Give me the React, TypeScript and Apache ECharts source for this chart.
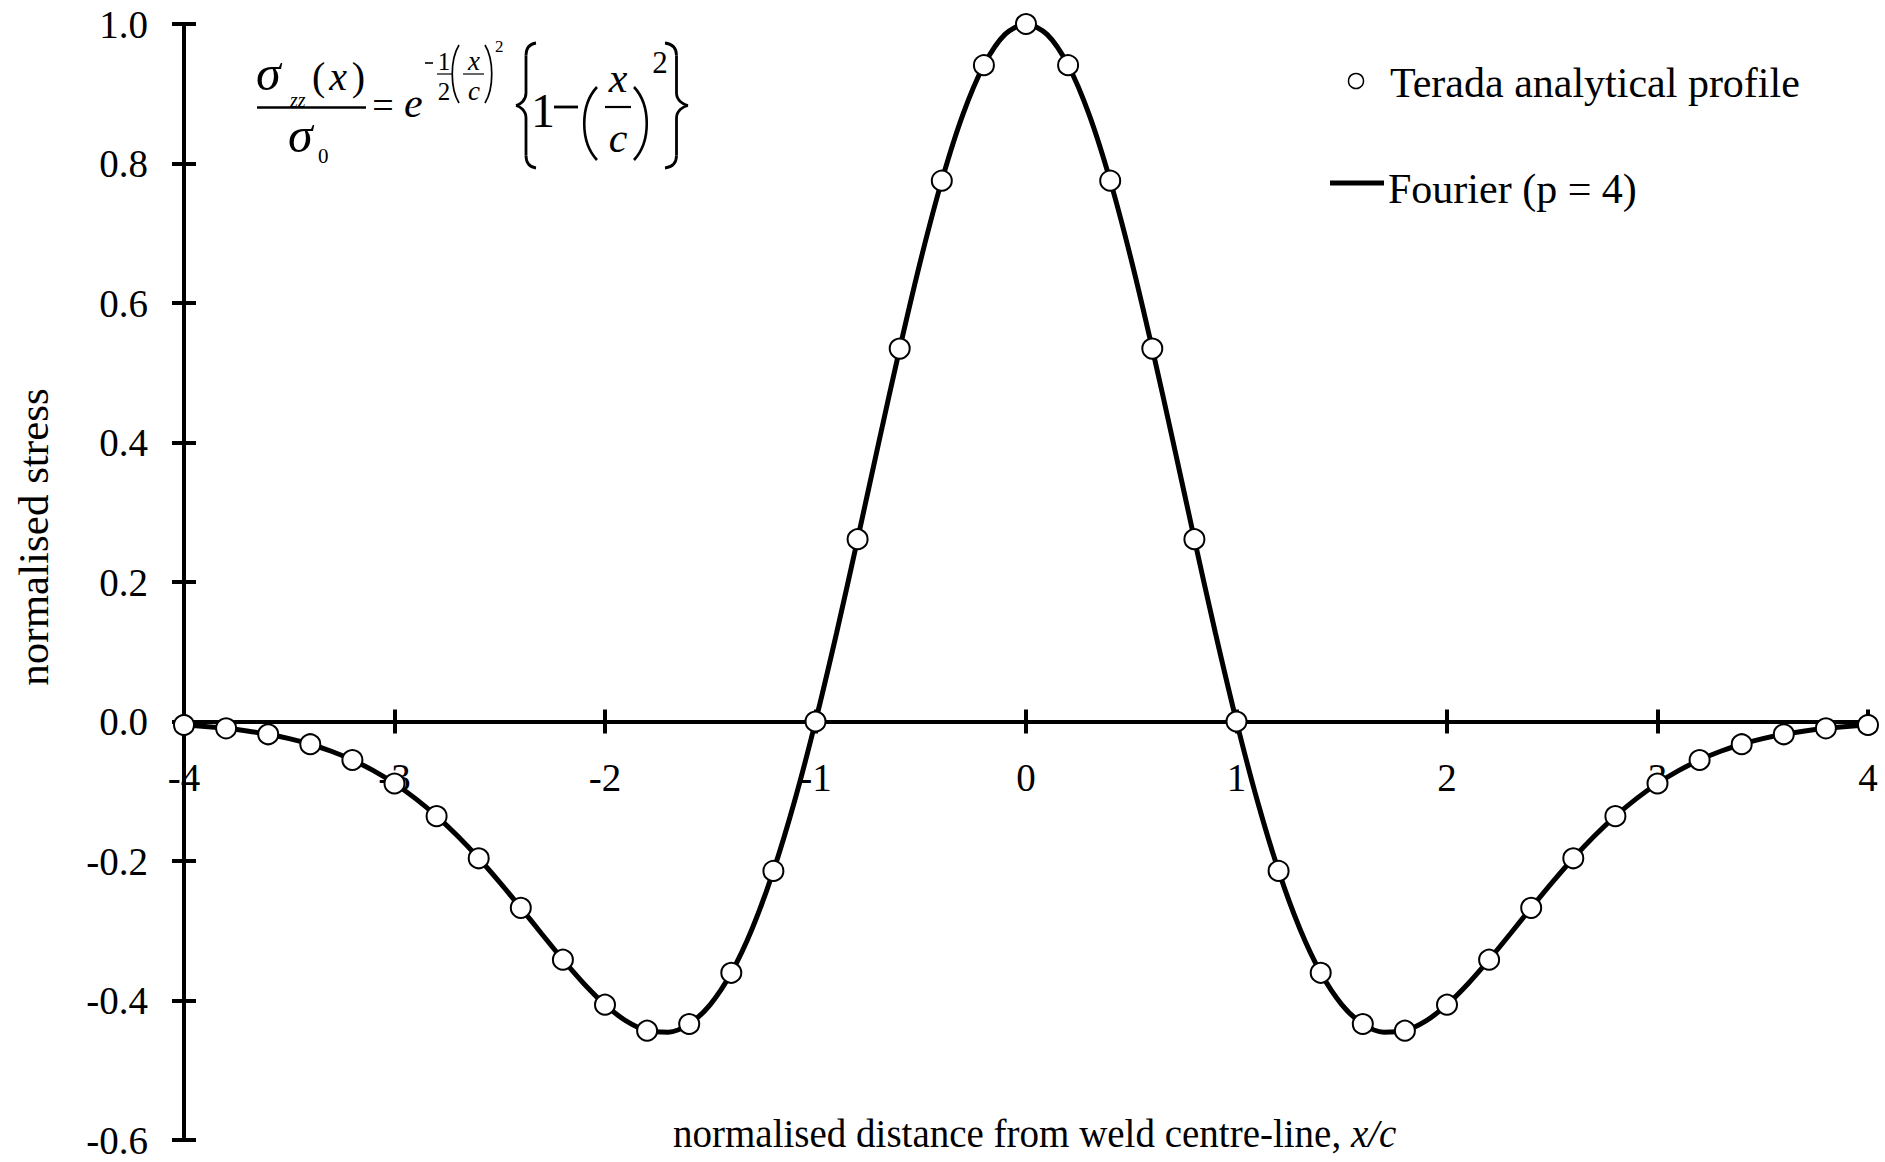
import React, { useEffect, useRef } from "react";
import * as echarts from "echarts";

const FONT = "'Liberation Serif', 'Times New Roman', Times, serif";

// Terada analytical profile points (x/c, normalised stress)
const teradaX = [
  -4.0, -3.8, -3.6, -3.4, -3.2, -3.0, -2.8, -2.6, -2.4, -2.2, -2.0, -1.8, -1.6, -1.4,
  -1.2, -1.0, -0.8, -0.6, -0.4, -0.2, 0.0, 0.2, 0.4, 0.6, 0.8, 1.0, 1.2, 1.4, 1.6, 1.8,
  2.0, 2.2, 2.4, 2.6, 2.8, 3.0, 3.2, 3.4, 3.6, 3.8, 4.0,
];
const teradaY = [
  -0.005, -0.0098, -0.0183, -0.0326, -0.0552, -0.0889, -0.1357, -0.1961, -0.2672, -0.3415,
  -0.406, -0.4433, -0.4337, -0.3603, -0.2142, 0.0, 0.2614, 0.5346, 0.7754, 0.941, 1.0,
  0.941, 0.7754, 0.5346, 0.2614, 0.0, -0.2142, -0.3603, -0.4337, -0.4433, -0.406,
  -0.3415, -0.2672, -0.1961, -0.1357, -0.0889, -0.0552, -0.0326, -0.0183, -0.0098, -0.005,
];

// Fourier (p = 4) reconstruction curve
const fourierX = [
  -4.0, -3.9, -3.8, -3.7, -3.6, -3.5, -3.4, -3.3, -3.2, -3.1, -3.0, -2.9, -2.8, -2.7, -2.6,
  -2.5, -2.4, -2.3, -2.2, -2.1, -2.0, -1.9, -1.8, -1.7, -1.6, -1.5, -1.4, -1.3, -1.2, -1.1,
  -1.0, -0.9, -0.8, -0.7, -0.6, -0.5, -0.4, -0.3, -0.2, -0.1, 0.0, 0.1, 0.2, 0.3, 0.4, 0.5,
  0.6, 0.7, 0.8, 0.9, 1.0, 1.1, 1.2, 1.3, 1.4, 1.5, 1.6, 1.7, 1.8, 1.9, 2.0, 2.1, 2.2, 2.3,
  2.4, 2.5, 2.6, 2.7, 2.8, 2.9, 3.0, 3.1, 3.2, 3.3, 3.4, 3.5, 3.6, 3.7, 3.8, 3.9, 4.0,
];
const fourierY = [
  -0.005, -0.0071, -0.0098, -0.0135, -0.0183, -0.0246, -0.0326, -0.0427, -0.0552, -0.0705,
  -0.0889, -0.1106, -0.1357, -0.1643, -0.1961, -0.2307, -0.2672, -0.3046, -0.3415, -0.376,
  -0.406, -0.4293, -0.4433, -0.4455, -0.4337, -0.4058, -0.3603, -0.2964, -0.2142, -0.1147,
  0.0, 0.1267, 0.2614, 0.3992, 0.5346, 0.6619, 0.7754, 0.87, 0.941, 0.9851, 1.0, 0.9851,
  0.941, 0.87, 0.7754, 0.6619, 0.5346, 0.3992, 0.2614, 0.1267, 0.0, -0.1147, -0.2142,
  -0.2964, -0.3603, -0.4058, -0.4337, -0.4455, -0.4433, -0.4293, -0.406, -0.376, -0.3415,
  -0.3046, -0.2672, -0.2307, -0.1961, -0.1643, -0.1357, -0.1106, -0.0889, -0.0705, -0.0552,
  -0.0427, -0.0326, -0.0246, -0.0183, -0.0135, -0.0098, -0.0071, -0.005,
];

const X_MIN = -4;
const X_MAX = 4;
const X_STEP = 1;
const Y_MIN = -0.6;
const Y_MAX = 1.0;
const Y_STEP = 0.2;

const SERIES_POINTS = "Terada analytical profile";
const SERIES_LINE = "Fourier (p = 4)";
const X_TITLE = "normalised distance from weld centre-line, ";
const X_TITLE_ITALIC = "x/c";
const Y_TITLE = "normalised stress";

// layout of the plot area (px)
const GRID_LEFT = 184;
const GRID_RIGHT = 17;
const GRID_TOP = 24;
const GRID_BOTTOM = 22;
const CHART_H = 1162;

// text helper: place by baseline
function tb(
  text: string,
  x: number,
  baseline: number,
  size: number,
  italic = false,
  align: "left" | "center" | "right" = "left"
) {
  return {
    type: "text",
    x,
    y: baseline - 0.3375 * size,
    z: 100,
    style: {
      text,
      x: 0,
      y: 0,
      fill: "#000",
      font: `${italic ? "italic " : ""}${size}px ${FONT}`,
      align,
      textAlign: align,
      verticalAlign: "middle",
      textVerticalAlign: "middle",
    },
  };
}

function ln(x1: number, y1: number, x2: number, y2: number, w: number) {
  return {
    type: "line",
    z: 100,
    shape: { x1, y1, x2, y2 },
    style: { stroke: "#000", lineWidth: w },
  };
}

function bz(
  x1: number,
  y1: number,
  cpx1: number,
  cpy1: number,
  cpx2: number,
  cpy2: number,
  x2: number,
  y2: number,
  w: number
) {
  return {
    type: "bezierCurve",
    z: 100,
    shape: { x1, y1, cpx1, cpy1, cpx2, cpy2, x2, y2 },
    style: { stroke: "#000", lineWidth: w, fill: "none" },
  };
}

// curly brace: xOuter = x of the hook ends, xTip = x of the middle point
function brace(xOuter: number, xTip: number, top: number, bottom: number, w: number) {
  const xs = (xOuter + xTip) / 2;
  const mid = (top + bottom) / 2;
  const h = bottom - top;
  const k = h * 0.1;
  const hx = xs + (xOuter - xs) * 0.3;
  const tx = xTip + (xs - xTip) * 0.4;
  return [
    bz(xOuter, top, hx, top + 1, xs, top + k * 0.4, xs, top + k, w),
    ln(xs, top + k, xs, mid - k, w),
    bz(xs, mid - k, xs, mid - k * 0.4, tx, mid - 1, xTip, mid, w),
    bz(xTip, mid, tx, mid + 1, xs, mid + k * 0.4, xs, mid + k, w),
    ln(xs, mid + k, xs, bottom - k, w),
    bz(xs, bottom - k, xs, bottom - k * 0.4, hx, bottom - 1, xOuter, bottom, w),
  ];
}

function paren(xEnd: number, xBulge: number, top: number, bottom: number, w: number) {
  const h = bottom - top;
  return bz(xEnd, top, xBulge, top + h * 0.25, xBulge, bottom - h * 0.25, xEnd, bottom, w);
}

function buildFormula(): any[] {
  return [
    // numerator sigma_zz(x)
    tb("σ", 256, 90, 50, true),
    tb("zz", 290, 107, 20, true),
    tb("(", 312, 90, 40),
    tb("x", 338, 90, 40, true, "center"),
    tb(")", 365, 90, 40, false, "right"),
    ln(257, 107.5, 366, 107.5, 2.5),
    // denominator sigma_0
    tb("σ", 288, 152, 50, true),
    tb("0", 318, 163, 21),
    // equals
    tb("=", 383, 118, 38, false, "center"),
    // e
    tb("e", 404, 117, 42, true),
    // exponent  -1/2 (x/c)^2
    ln(425, 63, 433, 63, 1.6),
    tb("1", 444, 70, 25, false, "center"),
    ln(437, 74, 452, 74, 1.2),
    tb("2", 444, 100, 25, false, "center"),
    paren(459, 450, 45, 103, 1.7),
    tb("x", 474, 70, 27, true, "center"),
    ln(463, 74, 484, 74, 1.2),
    tb("c", 474, 100, 27, true, "center"),
    paren(485, 494, 45, 103, 1.7),
    tb("2", 495, 52, 17),
    // { 1 - (x/c)^2 }
    ...brace(536, 516, 43, 168, 2.8),
    tb("1", 543, 127, 48, false, "center"),
    ln(554, 107, 578, 107, 2.8),
    paren(597, 580, 87, 160, 2.6),
    tb("x", 618, 92, 42, true, "center"),
    ln(605, 107, 631, 107, 2.2),
    tb("c", 618, 152, 42, true, "center"),
    paren(634, 651, 87, 160, 2.6),
    tb("2", 660, 73, 31, false, "center"),
    ...brace(665, 688, 43, 168, 2.8),
  ];
}

function buildLegend(): any[] {
  return [
    {
      type: "circle",
      z: 100,
      shape: { cx: 1356, cy: 81, r: 7.5 },
      style: { fill: "#fff", stroke: "#000", lineWidth: 1.5 },
    },
    tb(SERIES_POINTS, 1390, 97, 42),
    ln(1330, 183, 1384, 183, 5),
    tb(SERIES_LINE, 1388, 203, 42),
  ];
}

function buildTitles(): any[] {
  return [
    {
      type: "text",
      x: 673,
      y: 1147 - 0.3375 * 39,
      z: 100,
      style: {
        text: `${X_TITLE}{i|${X_TITLE_ITALIC}}`,
        x: 0,
        y: 0,
        fill: "#000",
        font: `39px ${FONT}`,
        fontSize: 39,
        fontFamily: FONT,
        align: "left",
        textAlign: "left",
        verticalAlign: "middle",
        textVerticalAlign: "middle",
        rich: {
          i: { fontStyle: "italic", fontSize: 39, fontFamily: FONT, fill: "#000", color: "#000" },
        },
      },
    },
    {
      type: "text",
      x: 33,
      y: 537,
      rotation: Math.PI / 2,
      z: 100,
      style: {
        text: Y_TITLE,
        x: 0,
        y: 0,
        fill: "#000",
        font: `43px ${FONT}`,
        align: "center",
        textAlign: "center",
        verticalAlign: "middle",
        textVerticalAlign: "middle",
      },
    },
  ];
}

export default function App() {
  const ref = useRef<HTMLDivElement>(null);

  useEffect(() => {
    if (!ref.current) return;
    const chart = echarts.init(ref.current, null, { renderer: "svg" });

    const axisLineStyle = { color: "#000", width: 4 };
    const tickStyle = { color: "#000", width: 4 };
    const labelStyle = { color: "#000", fontSize: 39, fontFamily: FONT };

    // an onZero x axis keeps its labels at the grid bottom; pull them up to sit under y = 0
    const gridH = CHART_H - GRID_TOP - GRID_BOTTOM;
    const zeroFromBottom = gridH * ((0 - Y_MIN) / (Y_MAX - Y_MIN));
    const xLabelMargin = 36 - zeroFromBottom;

    const option: any = {
      animation: false,
      backgroundColor: "#fff",
      grid: {
        left: GRID_LEFT,
        right: GRID_RIGHT,
        top: GRID_TOP,
        bottom: GRID_BOTTOM,
        containLabel: false,
        outerBoundsMode: "none",
      },
      xAxis: [
        {
          type: "value",
          min: X_MIN,
          max: X_MAX,
          interval: X_STEP,
          position: "bottom",
          axisLine: { show: true, onZero: true, onZeroAxisIndex: 0, lineStyle: axisLineStyle },
          axisTick: { show: true, inside: false, length: 12, lineStyle: tickStyle },
          axisLabel: {
            ...labelStyle,
            margin: xLabelMargin,
            showMinLabel: true,
            showMaxLabel: true,
            hideOverlap: false,
            formatter: (v: number) => String(Math.round(v)),
          },
          splitLine: { show: false },
        },
        {
          type: "value",
          min: X_MIN,
          max: X_MAX,
          interval: X_STEP,
          position: "bottom",
          axisLine: { show: false, onZero: true, onZeroAxisIndex: 1, lineStyle: axisLineStyle },
          axisTick: { show: true, inside: true, length: 12, lineStyle: tickStyle },
          axisLabel: { show: false },
          splitLine: { show: false },
        },
      ],
      yAxis: [
        {
          type: "value",
          min: Y_MIN,
          max: Y_MAX,
          interval: Y_STEP,
          position: "left",
          axisLine: { show: true, onZero: false, lineStyle: axisLineStyle },
          axisTick: { show: true, inside: false, length: 12, lineStyle: tickStyle },
          axisLabel: {
            ...labelStyle,
            margin: 36,
            showMinLabel: true,
            showMaxLabel: true,
            formatter: (v: number) => (Math.abs(v) < 1e-9 ? "0.0" : v.toFixed(1)),
          },
          splitLine: { show: false },
        },
        {
          type: "value",
          min: Y_MIN,
          max: Y_MAX,
          interval: Y_STEP,
          position: "left",
          axisLine: { show: false, onZero: false },
          axisTick: { show: true, inside: true, length: 12, lineStyle: tickStyle },
          axisLabel: { show: false },
          splitLine: { show: false },
        },
      ],
      series: [
        {
          type: "line",
          name: SERIES_LINE,
          xAxisIndex: 0,
          yAxisIndex: 0,
          data: fourierX.map((x, i) => [x, fourierY[i]]),
          showSymbol: false,
          smooth: 0.3,
          lineStyle: { color: "#000", width: 5 },
          itemStyle: { color: "#000" },
          z: 3,
        },
        {
          type: "scatter",
          name: SERIES_POINTS,
          xAxisIndex: 0,
          yAxisIndex: 0,
          data: teradaX.map((x, i) => [x, teradaY[i]]),
          symbol: "circle",
          symbolSize: 20,
          itemStyle: { color: "#fff", borderColor: "#000", borderWidth: 2, opacity: 1 },
          clip: false,
          z: 4,
        },
      ],
      graphic: [...buildFormula(), ...buildLegend(), ...buildTitles()],
    };

    chart.setOption(option);
    return () => {
      chart.dispose();
    };
  }, []);

  return (
    <div
      ref={ref}
      style={{ position: "absolute", left: 0, top: 0, width: 1885, height: 1162, background: "#fff" }}
    />
  );
}
